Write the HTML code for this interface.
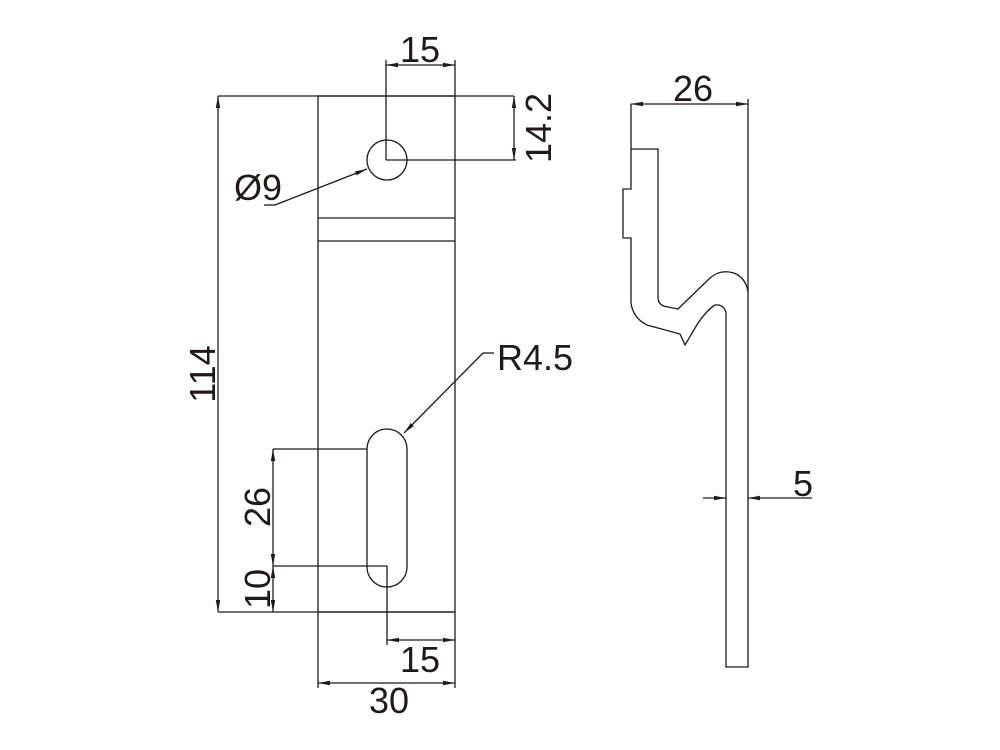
<!DOCTYPE html>
<html><head><meta charset="utf-8"><style>
html,body{margin:0;padding:0;background:#fff;}
svg{display:block;}
text{font-family:"Liberation Sans",sans-serif;font-size:36px;fill:#231815;}
</style></head><body>
<svg width="1000" height="750" viewBox="0 0 1000 750" xmlns="http://www.w3.org/2000/svg">
<defs>
<marker id="a" viewBox="0 0 12 6" refX="12" refY="3" markerWidth="12" markerHeight="6" markerUnits="userSpaceOnUse" orient="auto-start-reverse">
<path d="M0,0.8 L12,3 L0,5.2 Z" fill="#231815"/></marker>
</defs>
<g stroke="#231815" stroke-width="1.3" fill="none">
<rect x="318" y="96" width="137" height="516"/>
<line x1="318" y1="218" x2="455" y2="218"/>
<line x1="318" y1="241" x2="455" y2="241"/>
<circle cx="387" cy="160" r="20"/>
<path d="M367,449 A20,20 0 0 1 407,449 L407,567 A20,20 0 0 1 367,567 Z"/>
<line x1="386" y1="160" x2="386" y2="60"/>
<line x1="455" y1="96" x2="455" y2="60"/>
<line x1="386" y1="65" x2="455" y2="65" marker-start="url(#a)" marker-end="url(#a)"/>
<line x1="218" y1="96" x2="514" y2="96"/>
<line x1="386" y1="160" x2="516" y2="160"/>
<line x1="514" y1="96" x2="514" y2="160" marker-start="url(#a)" marker-end="url(#a)"/>
<line x1="218" y1="96" x2="218" y2="612" marker-start="url(#a)" marker-end="url(#a)"/>
<line x1="218" y1="612" x2="455" y2="612"/>
<line x1="264" y1="205" x2="275" y2="205"/>
<line x1="275" y1="205" x2="367" y2="169" marker-end="url(#a)"/>
<line x1="494" y1="353" x2="483" y2="353"/>
<line x1="483" y1="353" x2="404" y2="433" marker-end="url(#a)"/>
<line x1="273" y1="449" x2="367" y2="449"/>
<polyline points="273,566 387,566 387,645"/>
<line x1="273" y1="449" x2="273" y2="566" marker-start="url(#a)" marker-end="url(#a)"/>
<line x1="273" y1="566" x2="273" y2="612" marker-start="url(#a)" marker-end="url(#a)"/>
<line x1="387" y1="640" x2="455" y2="640" marker-start="url(#a)" marker-end="url(#a)"/>
<line x1="455" y1="612" x2="455" y2="688"/>
<line x1="318" y1="612" x2="318" y2="688"/>
<line x1="318" y1="683" x2="455" y2="683" marker-start="url(#a)" marker-end="url(#a)"/>
<path d="M631,104 L631,149 L658,149 L658,297 Q658,306 668,307 L678,309 L710,278 Q720,269 734,273 Q746,278 748,292 L748,667 L726,667 L726,313 Q724,304 715,305 Q708,309 698,323 L685,345 L680,334 L647,325 Q633,318 631,303 L631,238 L623,238 L623,189 L631,189 L631,149"/>
<line x1="748" y1="99" x2="748" y2="292"/>
<line x1="631" y1="104" x2="748" y2="104" marker-start="url(#a)" marker-end="url(#a)"/>
<line x1="703" y1="498" x2="726" y2="498" marker-end="url(#a)"/>
<line x1="812" y1="498" x2="748" y2="498" marker-end="url(#a)"/>
</g>
<text x="400" y="62">15</text>
<text x="234" y="200">Ø9</text>
<text x="497" y="370">R4.5</text>
<text x="400" y="672">15</text>
<text x="369" y="713">30</text>
<text x="673" y="101">26</text>
<text x="793" y="496">5</text>
<text transform="translate(551,128) rotate(-90)" text-anchor="middle">14.2</text>
<text transform="translate(215,374) rotate(-90)" text-anchor="middle">114</text>
<text transform="translate(270,507) rotate(-90)" text-anchor="middle">26</text>
<text transform="translate(270,589) rotate(-90)" text-anchor="middle">10</text>
</svg>
</body></html>
